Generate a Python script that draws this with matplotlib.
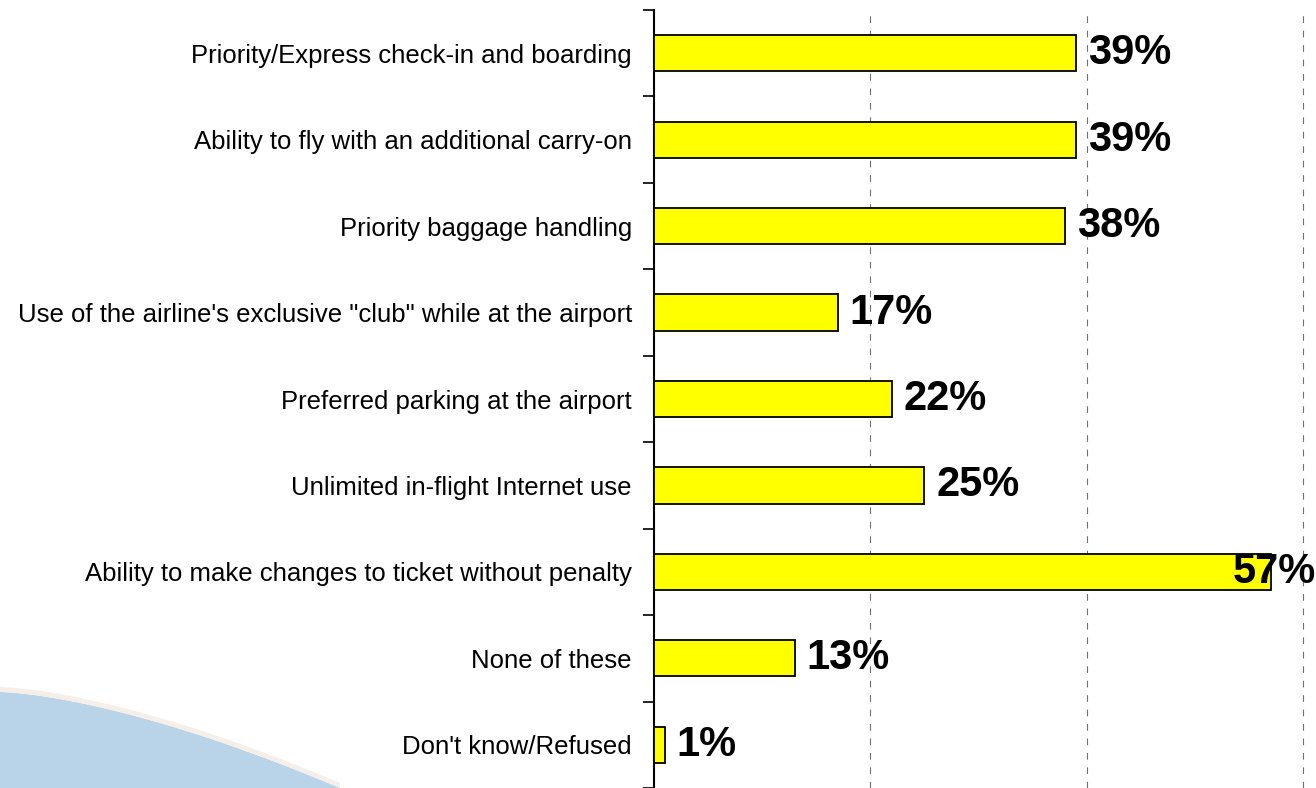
import numpy as np
import matplotlib
matplotlib.use("Agg")
import matplotlib.pyplot as plt
from matplotlib.patches import Polygon

plt.rcParams['font.family'] = ['Liberation Sans', 'DejaVu Sans']

# data, top to bottom as shown
categories = [
    "Priority/Express check-in and boarding",
    "Ability to fly with an additional carry-on",
    "Priority baggage handling",
    "Use of the airline's exclusive \"club\" while at the airport",
    "Preferred parking at the airport",
    "Unlimited in-flight Internet use",
    "Ability to make changes to ticket without penalty",
    "None of these",
    "Don't know/Refused",
]
values = [39, 39, 38, 17, 22, 25, 57, 13, 1]
grid_ticks = [20, 40, 60]

W, H = 1316, 788
fig = plt.figure(figsize=(W / 100, H / 100), dpi=100)

# light blue swoosh in lower left corner (decoration)
xs = np.linspace(0, 340, 40)
ys = 692 + 96 * (xs / 340) ** 1.5
pts = [(x / W, 1 - y / H) for x, y in zip(xs, ys)] + [(0, 0)]
fig.patches.append(Polygon(pts, closed=True, transform=fig.transFigure,
                           facecolor='#b9d3e9', edgecolor='none', zorder=0))
pts2 = [(x / W, 1 - (y - 5) / H) for x, y in zip(xs, ys)] + \
       [(x / W, 1 - y / H) for x, y in zip(xs[::-1], ys[::-1])]
fig.patches.append(Polygon(pts2, closed=True, transform=fig.transFigure,
                           facecolor='#f5efe8', edgecolor='none', zorder=0))

ax = fig.add_axes([654 / W, 0, 1 - 654 / W, 1 - 10 / H])
ax.patch.set_alpha(0)

y = np.arange(len(categories))
ax.barh(y, values, height=0.42, color='#ffff00', edgecolor='black', linewidth=1.3, zorder=3)

xmax = 60 + 13 / 10.83
ax.set_xlim(0, xmax)
ax.set_ylim(len(categories) - 0.5, -0.5)

for gx in grid_ticks:
    ax.axvline(gx, color='#707070', linewidth=0.8, linestyle=(0, (6, 7)), zorder=1)

for yi, v in zip(y, values):
    txt = f"{v}%"
    if v + 1.1 + 7.5 > xmax:
        ax.text(xmax, yi, txt, ha='right', va='center', fontsize=30, fontweight='bold', zorder=4)
    else:
        ax.text(v + 1.1, yi, txt, ha='left', va='center', fontsize=30, fontweight='bold', zorder=4)

ax.set_yticks(y)
ax.set_yticklabels(categories, fontsize=18.5)
ax.tick_params(axis='y', which='major', length=0, pad=16)
ax.set_yticks(np.arange(-0.5, len(categories), 1), minor=True)
ax.tick_params(axis='y', which='minor', length=8, width=1.2, direction='out')
ax.set_xticks([])

for s in ['top', 'right', 'bottom']:
    ax.spines[s].set_visible(False)
ax.spines['left'].set_linewidth(1.5)

fig.savefig("out.png", dpi=100)
